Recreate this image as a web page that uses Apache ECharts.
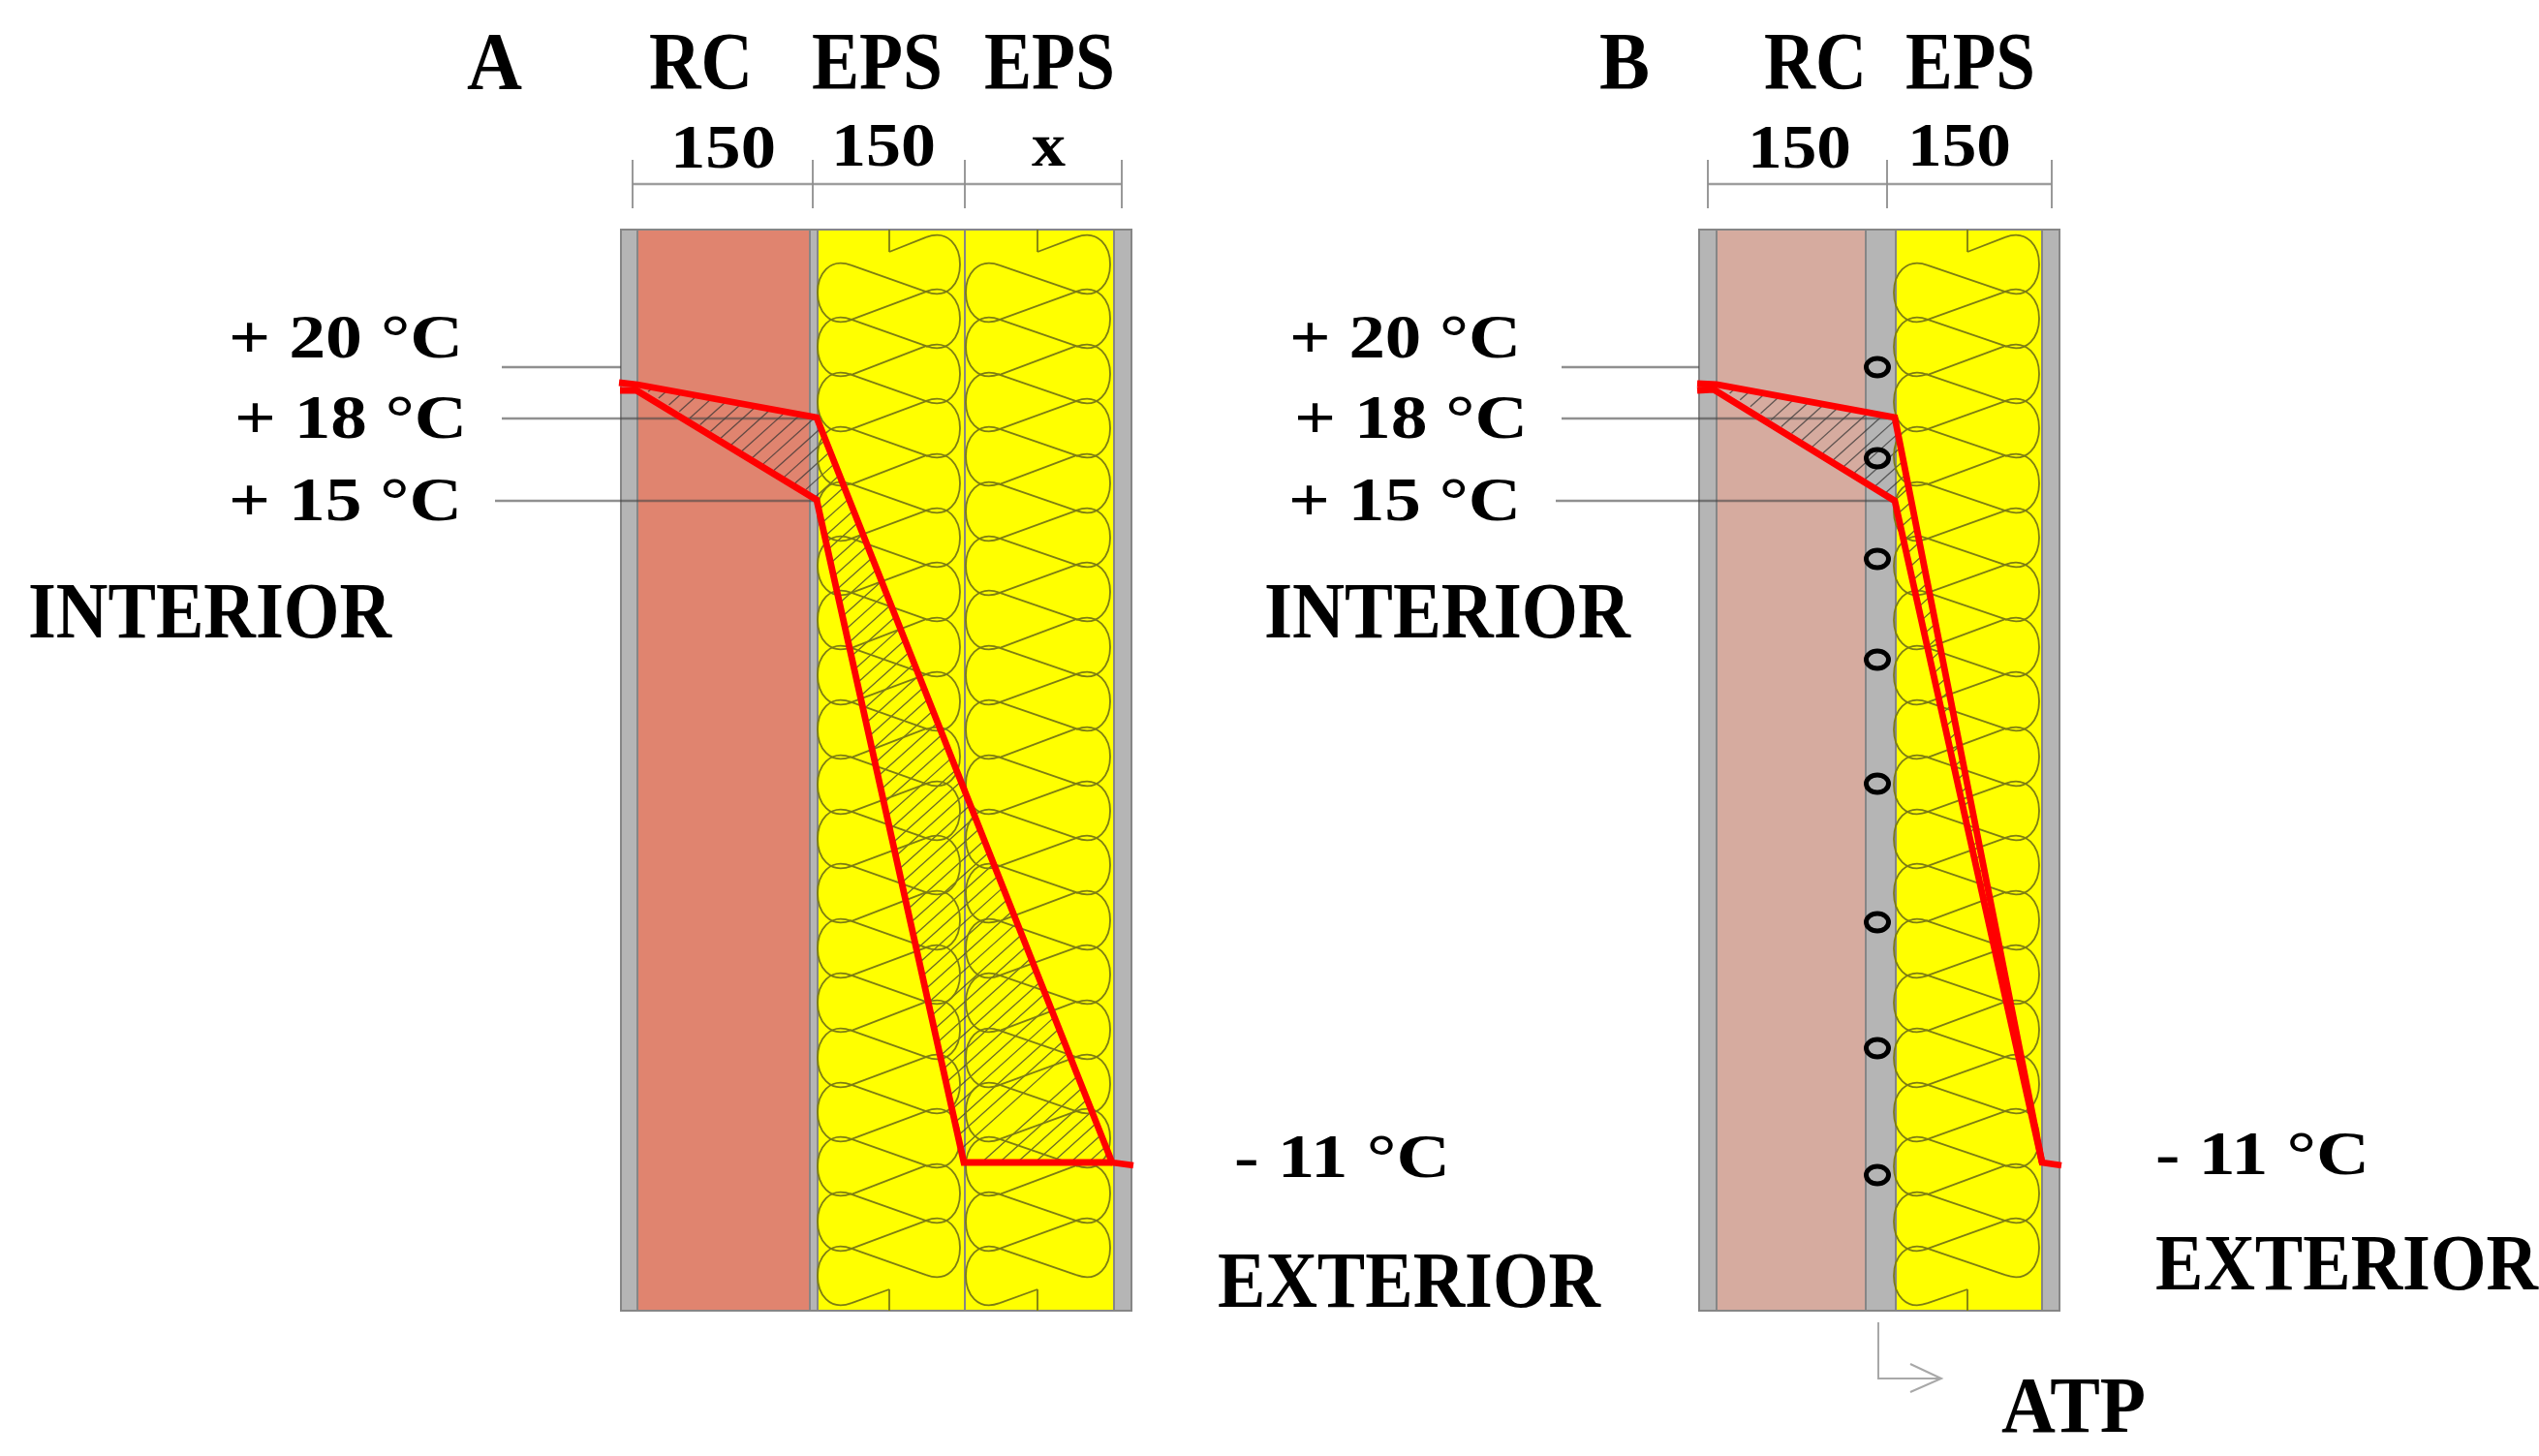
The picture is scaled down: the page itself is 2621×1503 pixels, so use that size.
<!DOCTYPE html>
<html><head><meta charset="utf-8">
<style>html,body{margin:0;padding:0;background:#fff}#c{width:2621px;height:1503px}</style>
<script src="https://cdn.jsdelivr.net/npm/echarts@6/dist/echarts.min.js"></script>
</head><body><div id="c"></div>
<script>
// Wall layers: [xStart, xEnd, colour name]
const layersA = [[641,658,'plaster'],[658,836,'rcA'],[836,844,'plaster'],[844,996,'eps'],[996,1150,'eps'],[1150,1168,'plaster']];
const layersB = [[1754,1772,'plaster'],[1772,1926,'rcB'],[1926,1957,'plaster'],[1957,2108,'eps'],[2108,2126,'plaster']];
const wallTop = 237, wallBottom = 1353;

// Insulation symbols: [left tangent x, right tangent x, notch x]
const epsSymbols = [[879,956,918],[1032,1111,1071],[1990,2070,2031]];
const leftLobeY = [302,358,415,471,528,584,640,697,753,810,866,922,979,1035,1092,1148,1204,1261,1317];
const rightLobeY = [273,329,386,442,499,555,611,668,724,781,837,893,950,1006,1063,1119,1175,1232,1288];

// Temperature profiles (red)
const profileA1 = [[639,395],[658,397],[843,431],[1148,1200],[1170,1203]];
const profileA2 = [[640,403],[657,403],[843,516],[995,1200],[1148,1200]];
const profileB1 = [[1752,396],[1772,397],[1956,431],[2108,1200],[2128,1203]];
const profileB2 = [[1752,403],[1769,402],[1956,517],[2108,1200]];

// Hatched zones
const hatchA = [[658,397],[843,431],[1148,1200],[995,1200],[843,516]];
const hatchB = [[1772,397],[1956,431],[2108,1200],[1956,517]];

// Leader lines
const leaders = [[[518,379],[641,379]],[[518,432],[843,432]],[[511,517],[843,517]],
                 [[1612,379],[1754,379]],[[1612,432],[1956,432]],[[1606,517],[1956,517]]];

// Dimension lines
const dimLines = [[[653,190],[1158,190]],[[1763,190],[2118,190]]];
const dimTicks = [653,839,996,1158,1763,1948,2118];

// ATP pins
const pinY = [379,473,577,681,809,952,1082,1213];
const pinX = 1938;
const atpArrow = [[1939,1365],[1939,1423],[2004,1423]];
const atpHead = [[1972,1408],[2004,1423],[1972,1437]];

// Labels: [text, xLeft, xRight, yTop, yBottom]
const labels = [
 ['A',482,539,37,93],['RC',670,777,37,93],['EPS',838,973,37,93],['EPS',1016,1151,37,93],
 ['150',692,801,132,174],['150',858,966,130,172],['x',1065,1100,130,172],
 ['B',1651,1703,37,93],['RC',1821,1927,37,93],['EPS',1967,2101,37,93],
 ['150',1804,1911,132,174],['150',1969,2076,130,172],
 ['+ 20 °C',236,478,328,370],['+ 18 °C',242,482,411,453],['+ 15 °C',236,477,496,538],
 ['+ 20 °C',1331,1570,328,370],['+ 18 °C',1336,1577,411,453],['+ 15 °C',1330,1570,496,538],
 ['INTERIOR',29,404,604,659],['INTERIOR',1305,1683,604,659],
 ['- 11 °C',1274,1497,1174,1216],['- 11 °C',2225,2446,1171,1213],
 ['EXTERIOR',1257,1652,1296,1350],['EXTERIOR',2225,2620,1278,1332],
 ['ATP',2066,2215,1425,1479]
];

const palette = {plaster:'#b5b5b5', rcA:'#e0846f', rcB:'#d6ab9f', eps:'#ffff00'};
const RED = '#ff0000';
const chart = echarts.init(document.getElementById('c'));
const single = (renderItem, z) => ({type:'custom', coordinateSystem:'cartesian2d', data:[[0,0]], clip:false, silent:true, z, renderItem});
const lineSeries = (data, color, width, z) => ({type:'line', data, showSymbol:false, silent:true, z, animation:false,
   lineStyle:{color, width, cap:'butt', join:'miter'}, clip:false});

function wallsItem(p, api){
  const kids = [];
  layersA.concat(layersB).forEach(l=>{
    const a = api.coord([l[0],wallTop]), b = api.coord([l[1],wallBottom]);
    kids.push({type:'rect', shape:{x:a[0],y:a[1],width:b[0]-a[0],height:b[1]-a[1]},
      style:{fill:palette[l[2]], stroke:'#868686', lineWidth:2}});
  });
  return {type:'group', children:kids};
}
function epsItem(p, api){
  const kids = [], st = {stroke:'#7d7d12', lineWidth:1.8, fill:null};
  const seg = (a,b)=>{const A=api.coord(a),B=api.coord(b);kids.push({type:'line',shape:{x1:A[0],y1:A[1],x2:B[0],y2:B[1]},style:st});};
  // Each lobe leaves its two crossing points along the diagonals
  const lobe = (x,cy,ry,sign,rx,slope)=>{const A=api.coord([x,cy-ry]),B=api.coord([x,cy+ry]),k=sign*rx*4/3,d=Math.abs(k)*slope;
    kids.push({type:'bezierCurve',shape:{x1:A[0],y1:A[1],x2:B[0],y2:B[1],cpx1:A[0]+k,cpy1:A[1]-d,cpx2:B[0]+k,cpy2:B[1]+d},style:st});};
  epsSymbols.forEach((s,si)=>{
    const lx=s[0], rx=s[1], nx=s[2], ry=28.2, r=35, slope=ry/(rx-lx);
    leftLobeY.forEach(y=>lobe(lx,y,ry,-1,r,slope));
    rightLobeY.forEach(y=>lobe(rx,y,ry,1,r,slope));
    rightLobeY.forEach((y,i)=>{
      seg([rx,y+ry],[lx,leftLobeY[i]-ry]);
      if(i+1<leftLobeY.length) seg([rx,y+ry],[lx,leftLobeY[i+1]-ry]);
    });
    seg([rx,rightLobeY[0]-ry],[nx,260]); seg([nx,260],[nx,wallTop]);
    seg([lx,leftLobeY[leftLobeY.length-1]+ry],[nx,1331]); seg([nx,1331],[nx,wallBottom]);
  });
  return {type:'group', children:kids};
}
function hatchItem(p, api){
  const kids = [], slope = 0.9, step = 16.5;
  [hatchA,hatchB].forEach(poly=>{
    const cs = poly.map(q=>q[1]+slope*q[0]);
    for(let c=Math.ceil(Math.min(...cs)/step)*step; c<Math.max(...cs); c+=step){
      const xs=[];
      poly.forEach((q,i)=>{
        const r=poly[(i+1)%poly.length], f1=q[1]+slope*q[0]-c, f2=r[1]+slope*r[0]-c;
        if(f1*f2<0){ xs.push(q[0]+(r[0]-q[0])*f1/(f1-f2)); }
      });
      xs.sort((a,b)=>a-b);
      for(let i=0;i+1<xs.length;i+=2){
        const A=api.coord([xs[i],c-slope*xs[i]]), B=api.coord([xs[i+1],c-slope*xs[i+1]]);
        kids.push({type:'line',shape:{x1:A[0],y1:A[1],x2:B[0],y2:B[1]},style:{stroke:'rgba(50,50,50,0.72)',lineWidth:1.3}});
      }
    }
  });
  return {type:'group', children:kids};
}
function pinsItem(p, api){
  return {type:'group', children:pinY.map(y=>{const c=api.coord([pinX,y]);
    return {type:'ellipse',shape:{cx:c[0],cy:c[1],rx:11.5,ry:9},style:{fill:null,stroke:'#000',lineWidth:5}};})};
}
const measure = document.createElement('canvas').getContext('2d');
function textItem(p, api){
  return {type:'group', children:labels.map(l=>{
    const size=(l[4]-l[3])/0.66, font='bold '+size.toFixed(1)+'px "Liberation Serif"';
    measure.font=font;
    const a=api.coord([l[1],(l[3]+l[4])/2+size*0.06]), b=api.coord([l[2],0]);
    return {type:'text',x:a[0],y:a[1],scaleX:(b[0]-a[0])/measure.measureText(l[0]).width,
      style:{text:l[0],font,fill:'#000',align:'left',verticalAlign:'middle'}};
  })};
}

const series = [
  single(wallsItem,1),
  single(hatchItem,2),
  single(epsItem,3),
];
leaders.forEach(d=>series.push(lineSeries(d,'rgba(70,70,70,0.6)',2.4,4)));
dimLines.forEach(d=>series.push(lineSeries(d,'#9e9e9e',2.4,4)));
dimTicks.forEach(x=>series.push(lineSeries([[x,165],[x,215]],'#8e8e8e',1.8,4)));
series.push(lineSeries(atpArrow,'#a8a8a8',2,4), lineSeries(atpHead,'#a8a8a8',2,4));
series.push(single(pinsItem,5));
[profileA1,profileA2,profileB1,profileB2].forEach(d=>series.push(lineSeries(d,RED,6.8,6)));
series.push(single(textItem,7));

chart.setOption({
  animation:false, backgroundColor:'#fff',
  grid:{left:0,right:0,top:0,bottom:0},
  xAxis:{type:'value',min:0,max:2621,show:false},
  yAxis:{type:'value',min:0,max:1503,inverse:true,show:false},
  series
});
</script></body></html>
